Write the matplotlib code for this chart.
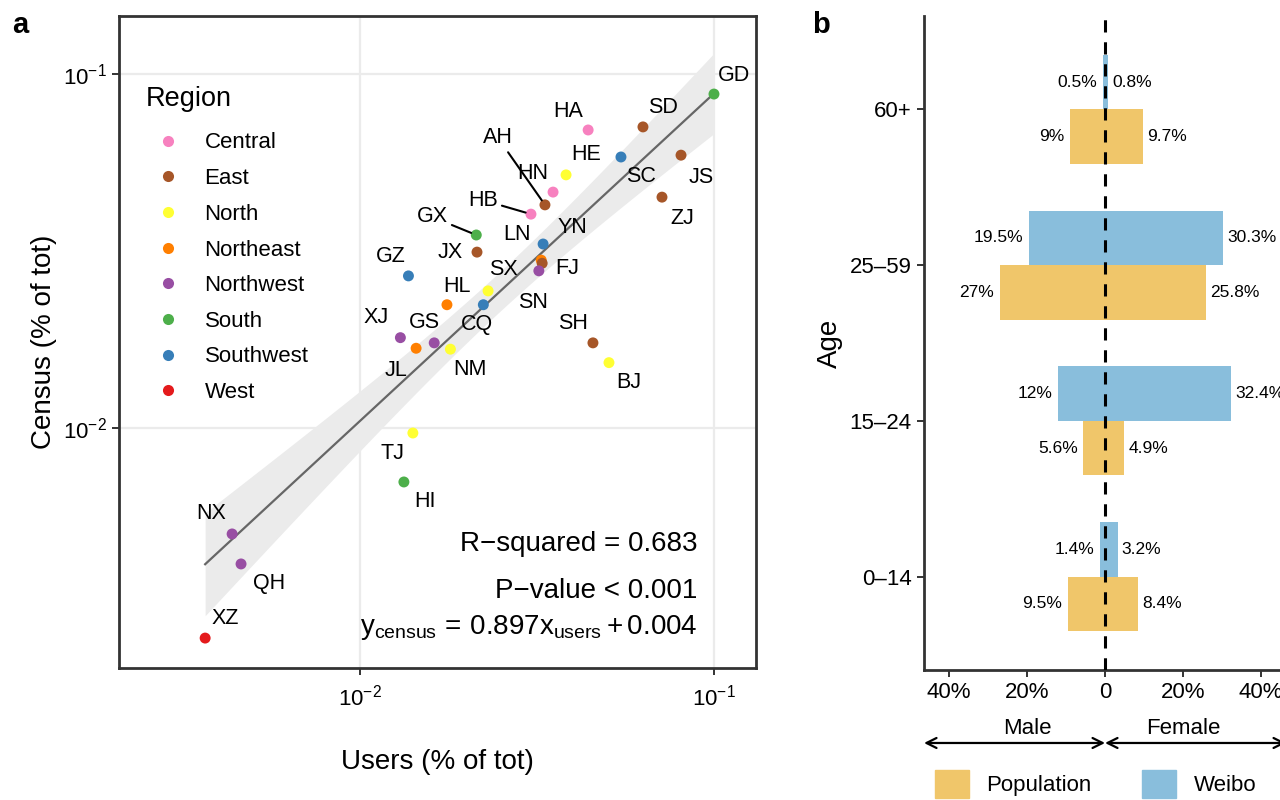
import numpy as np
import matplotlib
matplotlib.use("Agg")
import matplotlib.pyplot as plt
from matplotlib.lines import Line2D
from matplotlib.patches import Patch

plt.rcParams['font.family'] = ['Liberation Sans', 'DejaVu Sans']
plt.rcParams['mathtext.fontset'] = 'custom'
plt.rcParams['mathtext.rm'] = 'Liberation Sans'
plt.rcParams['mathtext.it'] = 'Liberation Sans:italic'

# ---- panel a data: share of users vs census share, by province
provinces = ["GD", "SD", "HA", "SC", "JS", "HE", "HN", "AH", "HB", "ZJ",
             "GX", "JX", "YN", "LN", "FJ", "SN", "SX", "GZ", "HL", "CQ",
             "XJ", "GS", "JL", "NM", "SH", "BJ", "TJ", "HI", "NX", "QH", "XZ"]
regions = ["South", "East", "Central", "Southwest", "East", "North", "Central", "East", "Central", "East",
           "South", "East", "Southwest", "Northeast", "East", "Northwest", "North", "Southwest", "Northeast", "Southwest",
           "Northwest", "Northwest", "Northeast", "North", "East", "North", "North", "South", "Northwest", "Northwest", "West"]
users = [0.100, 0.0630, 0.0441, 0.0546, 0.0807, 0.0382, 0.0351, 0.0333, 0.0304, 0.0713,
         0.0213, 0.0214, 0.0329, 0.0325, 0.0327, 0.0320, 0.0230, 0.0137, 0.0176, 0.0223,
         0.0130, 0.0162, 0.0144, 0.0180, 0.0455, 0.0505, 0.0141, 0.0133, 0.00435, 0.00461, 0.00365]
census = [0.0878, 0.0709, 0.0695, 0.0583, 0.0590, 0.0519, 0.0464, 0.0427, 0.0402, 0.0449,
          0.0351, 0.0314, 0.0331, 0.0298, 0.0292, 0.0278, 0.0244, 0.0269, 0.0223, 0.0223,
          0.0180, 0.0174, 0.0168, 0.0167, 0.0174, 0.0153, 0.00968, 0.00704, 0.00502, 0.00413, 0.00255]

region_names = ["Central", "East", "North", "Northeast", "Northwest", "South", "Southwest", "West"]
region_colors = ["#F781BF", "#A65628", "#FFFF33", "#FF7F00", "#984EA3", "#4DAF4A", "#377EB8", "#E41A1C"]

# ---- panel b data: age / sex structure (%)
age_groups = ["0–14", "15–24", "25–59", "60+"]
pop_male = [9.5, 5.6, 27, 9]
pop_female = [8.4, 4.9, 25.8, 9.7]
weibo_male = [1.4, 12, 19.5, 0.5]
weibo_female = [3.2, 32.4, 30.3, 0.8]

# label placement (pixels, x right / y down), repel-style
label_off = {
    "GD": (20, -19), "SD": (20, -19), "HA": (-20, -18), "HE": (20, -20), "SC": (20, 20),
    "JS": (20, 22), "ZJ": (20, 21), "HN": (-20, -19), "AH": (-47, -67), "HB": (-48, -14),
    "GX": (-44, -18), "JX": (-27, 0), "LN": (-24, -26), "YN": (29, -17), "FJ": (25, 5),
    "SN": (-6, 32), "SX": (15, -21), "GZ": (-18, -19), "HL": (10, -18), "CQ": (-6, 20),
    "XJ": (-24, -20), "GS": (-10, -20), "JL": (-20, 22), "NM": (20, 20), "SH": (-20, -19),
    "BJ": (20, 20), "TJ": (-20, 20), "HI": (21, 20), "NX": (-21, -20), "QH": (28, 20), "XZ": (20, -20),
}
with_segment = ["AH", "HB", "GX"]

dark = "#333333"
fig = plt.figure(figsize=(12.8, 8), dpi=100)

# ================= panel a =================
ax = fig.add_axes([0.0930, 0.165, 0.4977, 0.815])
ax.set_xscale("log")
ax.set_yscale("log")
ax.set_xlim(10 ** -2.681, 10 ** -0.881)
ax.set_ylim(10 ** -2.678, 10 ** -0.836)

# linear fit in log-log space with confidence band
lx = np.log10(users)
ly = np.log10(census)
slope, intercept = np.polyfit(lx, ly, 1)
n = len(lx)
resid = ly - (slope * lx + intercept)
s = np.sqrt(np.sum(resid ** 2) / (n - 2))
xs = np.linspace(lx.min(), lx.max(), 200)
fit = slope * xs + intercept
se = s * np.sqrt(1 / n + (xs - lx.mean()) ** 2 / np.sum((lx - lx.mean()) ** 2))
t = 1.75
ax.fill_between(10 ** xs, 10 ** (fit - t * se), 10 ** (fit + t * se), color="#EBEBEB", lw=0, zorder=1)
ax.plot(10 ** xs, 10 ** fit, color="#666666", lw=1.6, zorder=2)

col_of = dict(zip(region_names, region_colors))
ax.scatter(users, census, c=[col_of[r] for r in regions], s=62, lw=0, zorder=3)

for p, u, c in zip(provinces, users, census):
    dx, dy = label_off[p]
    kw = {}
    if p in with_segment:
        kw["arrowprops"] = dict(arrowstyle="-", color="black", lw=1.5, shrinkA=1, shrinkB=4)
    ax.annotate(p, (u, c), xytext=(dx, -dy), textcoords="offset pixels",
                ha="center", va="center", fontsize=15.5, zorder=4, **kw)

ax.set_xticks([1e-2, 1e-1])
ax.set_yticks([1e-2, 1e-1])
ax.xaxis.set_minor_locator(matplotlib.ticker.NullLocator())
ax.yaxis.set_minor_locator(matplotlib.ticker.NullLocator())
ax.grid(True, color="#EBEBEB", lw=1.6, zorder=0)
ax.set_axisbelow(True)
for sp in ax.spines.values():
    sp.set_color(dark)
    sp.set_linewidth(2)
ax.tick_params(length=5, width=1.4, color=dark, labelsize=16, pad=4)
ax.tick_params(axis="x", pad=7)
ax.set_xlabel("Users (% of tot)", fontsize=20, labelpad=28)
ax.set_ylabel("Census (% of tot)", fontsize=20, labelpad=4)

handles = [Line2D([], [], marker="o", ls="none", markersize=8, markerfacecolor=c, markeredgewidth=0)
           for c in region_colors]
ax.text((146 - 119) / 637, (668 - 99) / 652, "Region", transform=ax.transAxes,
        ha="left", va="center", fontsize=19.5)
ax.legend(handles, region_names, loc="upper left",
          bbox_to_anchor=((146 - 119) / 637, (668 - 132.5) / 652), frameon=False, fontsize=16,
          borderpad=0, borderaxespad=0, handlelength=2.0, handletextpad=0.63, labelspacing=0.66)

ax.text(0.9074, 0.1794, "R−squared = 0.683", transform=ax.transAxes, ha="right", va="baseline", fontsize=20)
ax.text(0.9074, 0.1074, "P−value < 0.001", transform=ax.transAxes, ha="right", va="baseline", fontsize=20)
ax.text(0.9074, 0.0521, r"$\mathregular{y_{census}\,=\,0.897x_{users}+0.004}$", transform=ax.transAxes,
        ha="right", va="baseline", fontsize=20)

fig.text(12 / 1280, 1 - 25 / 800, "a", fontsize=21, fontweight="bold", va="center")
fig.text(812 / 1280, 1 - 25 / 800, "b", fontsize=21, fontweight="bold", va="center")

# ================= panel b =================
pop_col = "#F0C66A"
weibo_col = "#89BEDC"
ax2 = fig.add_axes([0.7219, 0.1625, 0.2828, 0.8175])
y = np.arange(len(age_groups))
h = 0.35
ax2.barh(y + h / 2, -np.array(weibo_male), height=h, color=weibo_col, zorder=2)
ax2.barh(y + h / 2, weibo_female, height=h, color=weibo_col, zorder=2)
ax2.barh(y - h / 2, -np.array(pop_male), height=h, color=pop_col, zorder=2)
ax2.barh(y - h / 2, pop_female, height=h, color=pop_col, zorder=2)

for yy, m, f in zip(list(y + h / 2) + list(y - h / 2), weibo_male + pop_male, weibo_female + pop_female):
    ax2.annotate(f"{m:g}%", (-m, yy), xytext=(-4, 0), textcoords="offset points",
                 ha="right", va="center", fontsize=12.5)
    ax2.annotate(f"{f:g}%", (f, yy), xytext=(3, 0), textcoords="offset points",
                 ha="left", va="center", fontsize=12.5)

ax2.axvline(0, color="black", lw=2.2, dashes=(4, 3.2), zorder=3)
ax2.set_xlim(-46.4, 46.4)
ax2.set_ylim(-0.6, 3.6)
ax2.set_yticks(y)
ax2.set_yticklabels(age_groups)
ax2.set_xticks([-40, -20, 0, 20, 40])
ax2.set_xticklabels(["40%", "20%", "0", "20%", "40%"])
for k in ["top", "right"]:
    ax2.spines[k].set_visible(False)
for k in ["left", "bottom"]:
    ax2.spines[k].set_color(dark)
    ax2.spines[k].set_linewidth(2)
ax2.tick_params(length=5, width=1.4, color=dark, labelsize=16, pad=4)
ax2.set_ylabel("Age", fontsize=20, labelpad=5)

tr = ax2.get_xaxis_transform()
ax2.text(-20, -0.0887, "Male", transform=tr, ha="center", va="center", fontsize=16)
ax2.text(20, -0.0887, "Female", transform=tr, ha="center", va="center", fontsize=16)
ax2.annotate("", xy=(-46.4, -0.1116), xytext=(0, -0.1116), xycoords=tr, textcoords=tr,
             arrowprops=dict(arrowstyle="<->", color="black", lw=1.6, shrinkA=0, shrinkB=0,
                             mutation_scale=18), annotation_clip=False)
ax2.annotate("", xy=(46.4, -0.1116), xytext=(0, -0.1116), xycoords=tr, textcoords=tr,
             arrowprops=dict(arrowstyle="<->", color="black", lw=1.6, shrinkA=0, shrinkB=0,
                             mutation_scale=18), annotation_clip=False)

fig.legend([Patch(color=pop_col), Patch(color=weibo_col)], ["Population", "Weibo"],
           loc="upper left", bbox_to_anchor=(935 / 1280, 1 - 770 / 800), frameon=False,
           ncol=2, fontsize=16, borderpad=0, borderaxespad=0, handlelength=1.53, handleheight=1.53,
           handletextpad=0.77, columnspacing=2.3)

fig.savefig("out.png", dpi=100)
